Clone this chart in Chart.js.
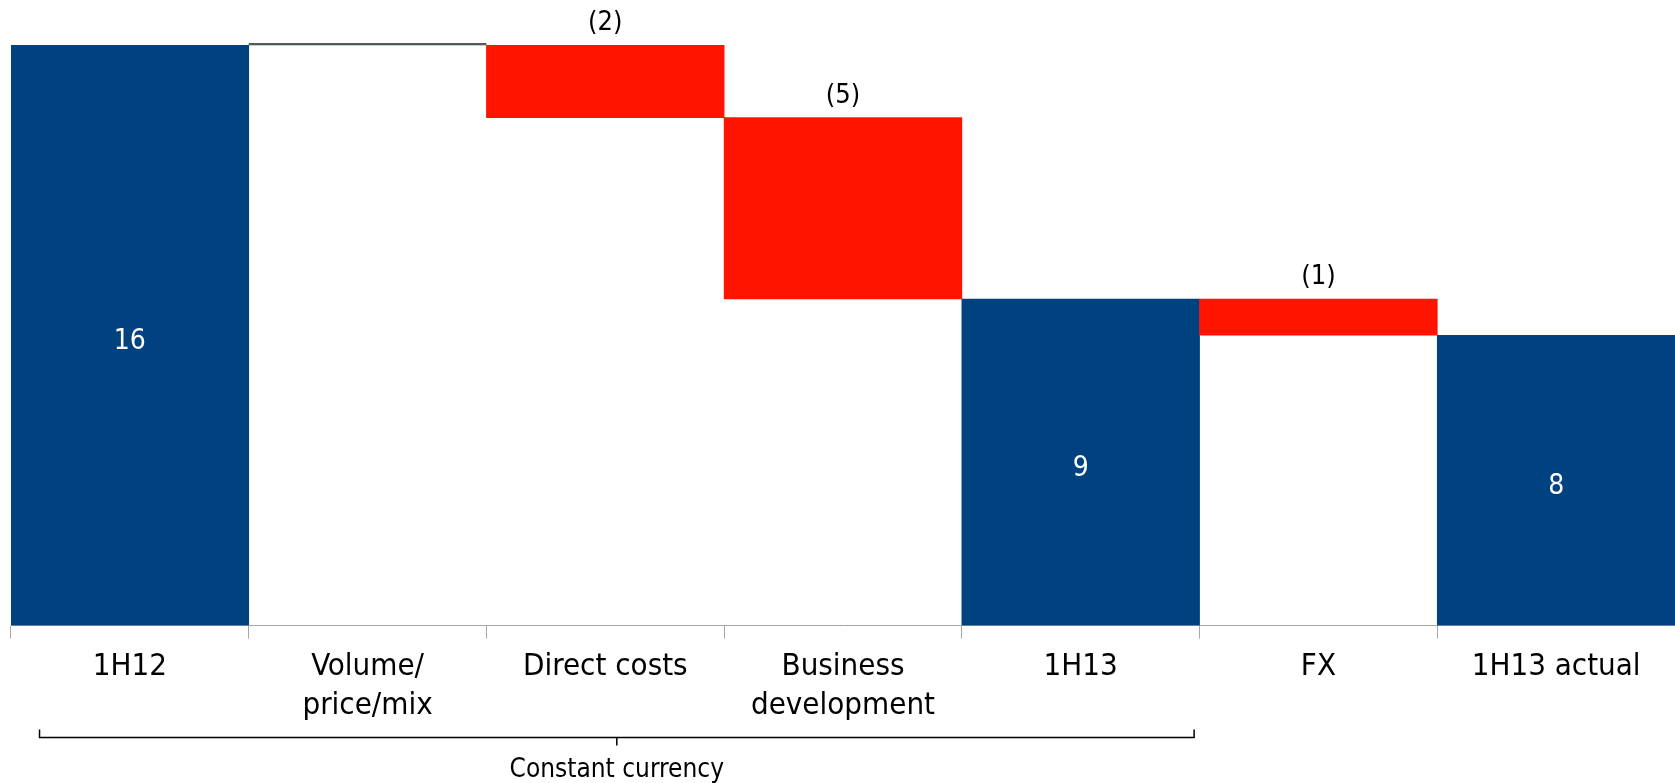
<!DOCTYPE html>
<html>
<head>
<meta charset="utf-8">
<script src="https://cdn.jsdelivr.net/npm/chart.js@4/dist/chart.umd.min.js"></script>
<style>
  html, body { margin: 0; padding: 0; background: #fff; }
  #wrap { width: 1675px; height: 783px; position: relative; }
</style>
</head>
<body>
<div id="wrap"><canvas id="c"></canvas></div>
<script>
// ---- data ----
const categories = ['1H12', ['Volume/', 'price/mix'], 'Direct costs', ['Business', 'development'], '1H13', 'FX', '1H13 actual'];
const values = [16, 0, -2, -5, 9, -1, 8];
const isTotal = [true, false, false, false, true, false, true];
const valueLabels = ['16', '', '(2)', '(5)', '9', '(1)', '8'];
const bracketLabel = 'Constant currency';
const bracketFrom = 0;   // first category under the bracket
const bracketTo = 4;     // last category under the bracket
const yMin = 0;
const yMax = 16;

// ---- styles ----
const BLUE = '#004280';
const RED = '#FF1400';
const CAT_FONT = "'DejaVu Sans Condensed', 'Liberation Sans', sans-serif";

// build floating bars (waterfall)
const floating = [];
let running = 0;
values.forEach((v, i) => {
  if (isTotal[i]) { floating.push([0, v]); running = v; }
  else { floating.push([running, running + v]); running += v; }
});
const colors = values.map((v, i) => isTotal[i] ? BLUE : (v < 0 ? RED : BLUE));

const labelPlugin = {
  id: 'wfLabels',
  afterDatasetsDraw(chart) {
    const ctx = chart.ctx;
    const meta = chart.getDatasetMeta(0);
    const y = chart.scales.y;
    ctx.save();
    meta.data.forEach((el, i) => {
      const p = el.getProps(['x', 'y', 'base', 'width'], true);
      const top = Math.min(p.y, p.base);
      const bot = Math.max(p.y, p.base);
      if (isTotal[i]) {
        ctx.fillStyle = '#ffffff';
        ctx.font = "28px " + CAT_FONT;
        ctx.textAlign = 'center';
        ctx.textBaseline = 'middle';
        ctx.fillText(valueLabels[i], p.x, (top + bot) / 2 + 6);
      } else if (values[i] === 0) {
        const yy = y.getPixelForValue(floating[i][0]);
        ctx.strokeStyle = '#222222';
        ctx.lineWidth = 1.5;
        ctx.beginPath();
        ctx.moveTo(p.x - p.width / 2, yy - 1);
        ctx.lineTo(p.x + p.width / 2, yy - 1);
        ctx.stroke();
      } else {
        ctx.fillStyle = '#000000';
        ctx.font = "27px " + CAT_FONT;
        ctx.textAlign = 'center';
        ctx.textBaseline = 'middle';
        ctx.fillText(valueLabels[i], p.x, top - 22);
      }
    });
    ctx.restore();
  },
  afterDraw(chart) {
    const ctx = chart.ctx;
    const x = chart.scales.x;
    const w = x.getPixelForValue(1) - x.getPixelForValue(0);
    const left = x.getPixelForValue(bracketFrom) - 0.38 * w;
    const right = x.getPixelForValue(bracketTo) + 0.477 * w;
    const by = chart.chartArea.bottom + 112;
    const mid = (left + right) / 2;
    ctx.save();
    ctx.strokeStyle = '#000';
    ctx.lineWidth = 1.5;
    ctx.beginPath();
    ctx.moveTo(left, by - 8);
    ctx.lineTo(left, by);
    ctx.lineTo(right, by);
    ctx.lineTo(right, by - 8);
    ctx.moveTo(mid, by);
    ctx.lineTo(mid, by + 8);
    ctx.stroke();
    ctx.fillStyle = '#000';
    ctx.font = "26px " + CAT_FONT;
    ctx.textAlign = 'center';
    ctx.textBaseline = 'middle';
    ctx.fillText(bracketLabel, mid, by + 33);
    ctx.restore();
  }
};

new Chart(document.getElementById('c'), {
  type: 'bar',
  data: {
    labels: categories,
    datasets: [{
      data: floating,
      backgroundColor: colors,
      borderWidth: 0,
      barPercentage: 1,
      categoryPercentage: 1
    }]
  },
  options: {
    responsive: true,
    maintainAspectRatio: false,
    animation: false,
    layout: { padding: { top: 45, left: 11, right: 0, bottom: 49 } },
    plugins: { legend: { display: false }, tooltip: { enabled: false } },
    scales: {
      x: {
        grid: { offset: true, drawOnChartArea: false, tickLength: 13, color: '#a6a6a6' },
        border: { color: '#a6a6a6', width: 1 },
        ticks: { color: '#000', padding: 9, maxRotation: 0, autoSkip: false,
                 font: { family: CAT_FONT, size: 31, lineHeight: 1.25 } }
      },
      y: { display: false, min: yMin, max: yMax }
    }
  },
  plugins: [labelPlugin]
});
</script>
</body>
</html>
